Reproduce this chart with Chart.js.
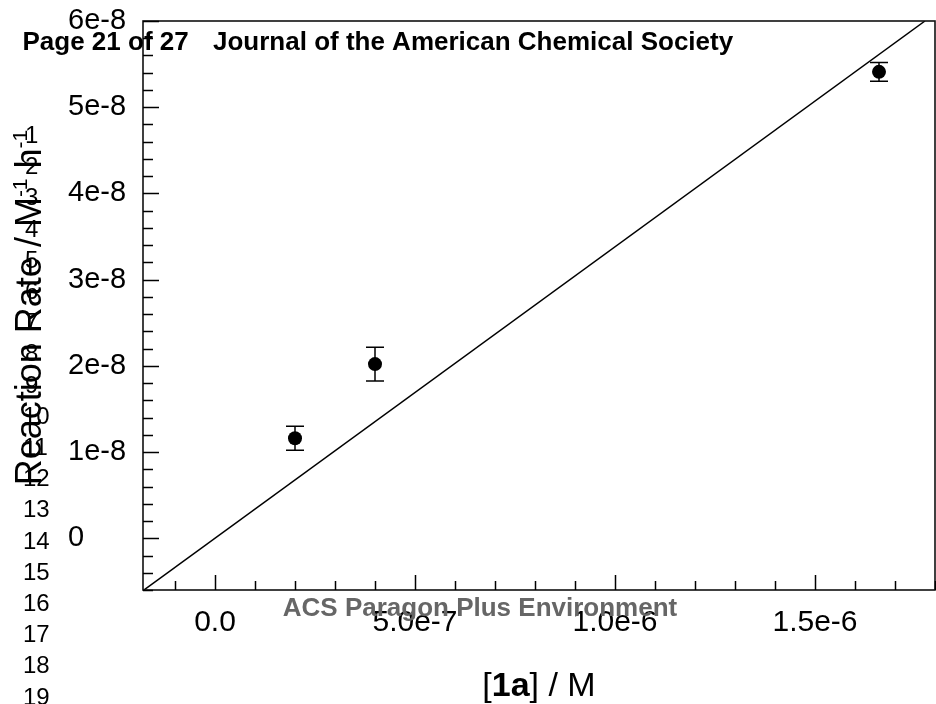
<!DOCTYPE html>
<html><head><meta charset="utf-8">
<script src="https://cdn.jsdelivr.net/npm/chart.js@4.4.1/dist/chart.umd.min.js"></script>
<style>html,body{margin:0;padding:0;background:#fff;} canvas{display:block;}</style>
</head><body>
<canvas id="c" width="936" height="704"></canvas>
<script>
// ---- data ----
const concX   = [2.0e-7, 4.0e-7, 1.66e-6];          // [1a] / M
const rateY   = [1.16e-8, 2.02e-8, 5.41e-8];        // reaction rate
const rateErr = [1.4e-9, 1.95e-9, 1.1e-9];          // error bar half-heights
const fitX    = [-1.8e-7, 1.775e-6];                // fitted line endpoints
const fitY    = [-6.08e-9, 6.0e-8];
const xTickValues = [0, 5e-7, 1e-6, 1.5e-6];
const xTickLabels = ['0.0', '5.0e-7', '1.0e-6', '1.5e-6'];
const yTickValues = [0, 1e-8, 2e-8, 3e-8, 4e-8, 5e-8, 6e-8];
const yTickLabels = ['0', '1e-8', '2e-8', '3e-8', '4e-8', '5e-8', '6e-8'];
const xMinorStep = 1e-7;
const yMinorStep = 2e-9;
const lineNumbers = ['1','2','3','4','5','6','7','8','9','10','11','12','13','14','15','16','17','18','19'];
const headerLeft = 'Page 21 of 27';
const headerRight = 'Journal of the American Chemical Society';
const footerText = 'ACS Paragon Plus Environment';
const yTitleParts = [['Reaction Rate / M', false], ['-1', true], [' h', false], ['-1', true]];
const xTitleParts = [['[', false], ['1a', true], ['] / M', false]];

const FONT = '"Liberation Sans", Arial, Helvetica, sans-serif';

const decor = {
  id: 'decor',
  afterDatasetsDraw(chart) {
    const ctx = chart.ctx, a = chart.chartArea;
    const xs = chart.scales.x, ys = chart.scales.y;
    ctx.save();
    // error bars
    ctx.strokeStyle = '#000'; ctx.lineWidth = 1.5;
    for (let i = 0; i < concX.length; i++) {
      const px = xs.getPixelForValue(concX[i]);
      const pt = ys.getPixelForValue(rateY[i] + rateErr[i]);
      const pb = ys.getPixelForValue(rateY[i] - rateErr[i]);
      ctx.beginPath();
      ctx.moveTo(px, pt); ctx.lineTo(px, pb);
      ctx.moveTo(px - 9, pt); ctx.lineTo(px + 9, pt);
      ctx.moveTo(px - 9, pb); ctx.lineTo(px + 9, pb);
      ctx.stroke();
    }
    // frame
    ctx.strokeStyle = '#111'; ctx.lineWidth = 1.6;
    ctx.strokeRect(a.left, a.top, a.right - a.left, a.bottom - a.top);
    // ticks (inward)
    ctx.lineWidth = 1.5; ctx.strokeStyle = '#000';
    ctx.beginPath();
    for (let k = Math.ceil(xs.min / xMinorStep); k * xMinorStep <= xs.max + 1e-15; k++) {
      const v = k * xMinorStep;
      const px = Math.round(xs.getPixelForValue(v)) + 0.5;
      const len = (k % 5 === 0) ? 15 : 9;
      ctx.moveTo(px, a.bottom); ctx.lineTo(px, a.bottom - len);
    }
    for (let k = Math.ceil(ys.min / yMinorStep); k * yMinorStep <= ys.max + 1e-16; k++) {
      const v = k * yMinorStep;
      const py = Math.round(ys.getPixelForValue(v)) + 0.5;
      const len = (k % 5 === 0) ? 16 : 10;
      ctx.moveTo(a.left, py); ctx.lineTo(a.left + len, py);
    }
    ctx.stroke();
    ctx.restore();
  },
  afterDraw(chart) {
    const ctx = chart.ctx, a = chart.chartArea;
    ctx.save();
    ctx.fillStyle = '#000';
    ctx.textBaseline = 'alphabetic';
    // y title (rotated)
    const big = 36, sup = 21;
    const segW = yTitleParts.map(([t, s]) => { ctx.font = (s ? sup : big) + 'px ' + FONT; return ctx.measureText(t).width; });
    const total = segW.reduce((p, c) => p + c, 0);
    ctx.translate(41, (a.top + a.bottom) / 2 + 2);
    ctx.rotate(-Math.PI / 2);
    let cx = -total / 2;
    yTitleParts.forEach(([t, s], i) => {
      ctx.font = (s ? sup : big) + 'px ' + FONT;
      ctx.textAlign = 'left';
      ctx.fillText(t, cx, s ? -14 : 0);
      cx += segW[i];
    });
    ctx.setTransform(1, 0, 0, 1, 0, 0);
    // x title
    const xs = 34;
    const xw = xTitleParts.map(([t, b]) => { ctx.font = (b ? 'bold ' : '') + xs + 'px ' + FONT; return ctx.measureText(t).width; });
    const xt = xw.reduce((p, c) => p + c, 0);
    let xx = (a.left + a.right) / 2 - xt / 2;
    xTitleParts.forEach(([t, b], i) => {
      ctx.font = (b ? 'bold ' : '') + xs + 'px ' + FONT;
      ctx.textAlign = 'left';
      ctx.fillText(t, xx, 696);
      xx += xw[i];
    });
    // page line numbers
    ctx.font = '24px ' + FONT;
    ctx.textAlign = 'left';
    lineNumbers.forEach((n, i) => {
      const cy = 540 + (i + 1 - 14) * 31.2;
      ctx.fillText(n, n.length > 1 ? 23 : 25, cy + 8.6);
    });
    // header
    ctx.font = 'bold 26px ' + FONT;
    ctx.fillText(headerLeft, 22.5, 50);
    ctx.fillText(headerRight, 213, 50);
    // footer
    ctx.fillStyle = '#666';
    ctx.textAlign = 'center';
    ctx.fillText(footerText, 480, 616);
    ctx.restore();
  }
};

new Chart(document.getElementById('c'), {
  type: 'scatter',
  data: {
    datasets: [
      {
        type: 'line',
        data: fitX.map((x, i) => ({ x: x, y: fitY[i] })),
        borderColor: '#000', borderWidth: 1.5, pointRadius: 0, fill: false, tension: 0
      },
      {
        type: 'scatter',
        data: concX.map((x, i) => ({ x: x, y: rateY[i] })),
        backgroundColor: '#000', borderColor: '#000', pointRadius: 7, pointHoverRadius: 7, borderWidth: 0
      }
    ]
  },
  options: {
    responsive: false, animation: false, devicePixelRatio: 1,
    layout: { autoPadding: false, padding: { left: 68, top: 21, right: 1, bottom: 0 } },
    plugins: { legend: { display: false }, tooltip: { enabled: false } },
    scales: {
      x: {
        type: 'linear', min: -1.8e-7, max: 1.8e-6,
        grid: { display: false, drawTicks: false }, border: { display: false },
        afterBuildTicks: s => { s.ticks = xTickValues.map(v => ({ value: v })); },
        afterFit: s => { s.height = 114; s.paddingLeft = 0; s.paddingRight = 0; },
        ticks: {
          padding: 15, color: '#000', maxRotation: 0, autoSkip: false,
          font: { family: FONT, size: 30 },
          callback: (v, i) => xTickLabels[i]
        }
      },
      y: {
        type: 'linear', min: -6e-9, max: 6e-8,
        grid: { display: false, drawTicks: false }, border: { display: false },
        afterBuildTicks: s => { s.ticks = yTickValues.map(v => ({ value: v })); },
        afterFit: s => { s.width = 75; s.paddingTop = 0; s.paddingBottom = 0; },
        ticks: {
          padding: 0, color: '#000', crossAlign: 'far', autoSkip: false,
          font: { family: FONT, size: 29 },
          callback: (v, i) => yTickLabels[i]
        }
      }
    }
  },
  plugins: [decor]
});
</script>
</body></html>
